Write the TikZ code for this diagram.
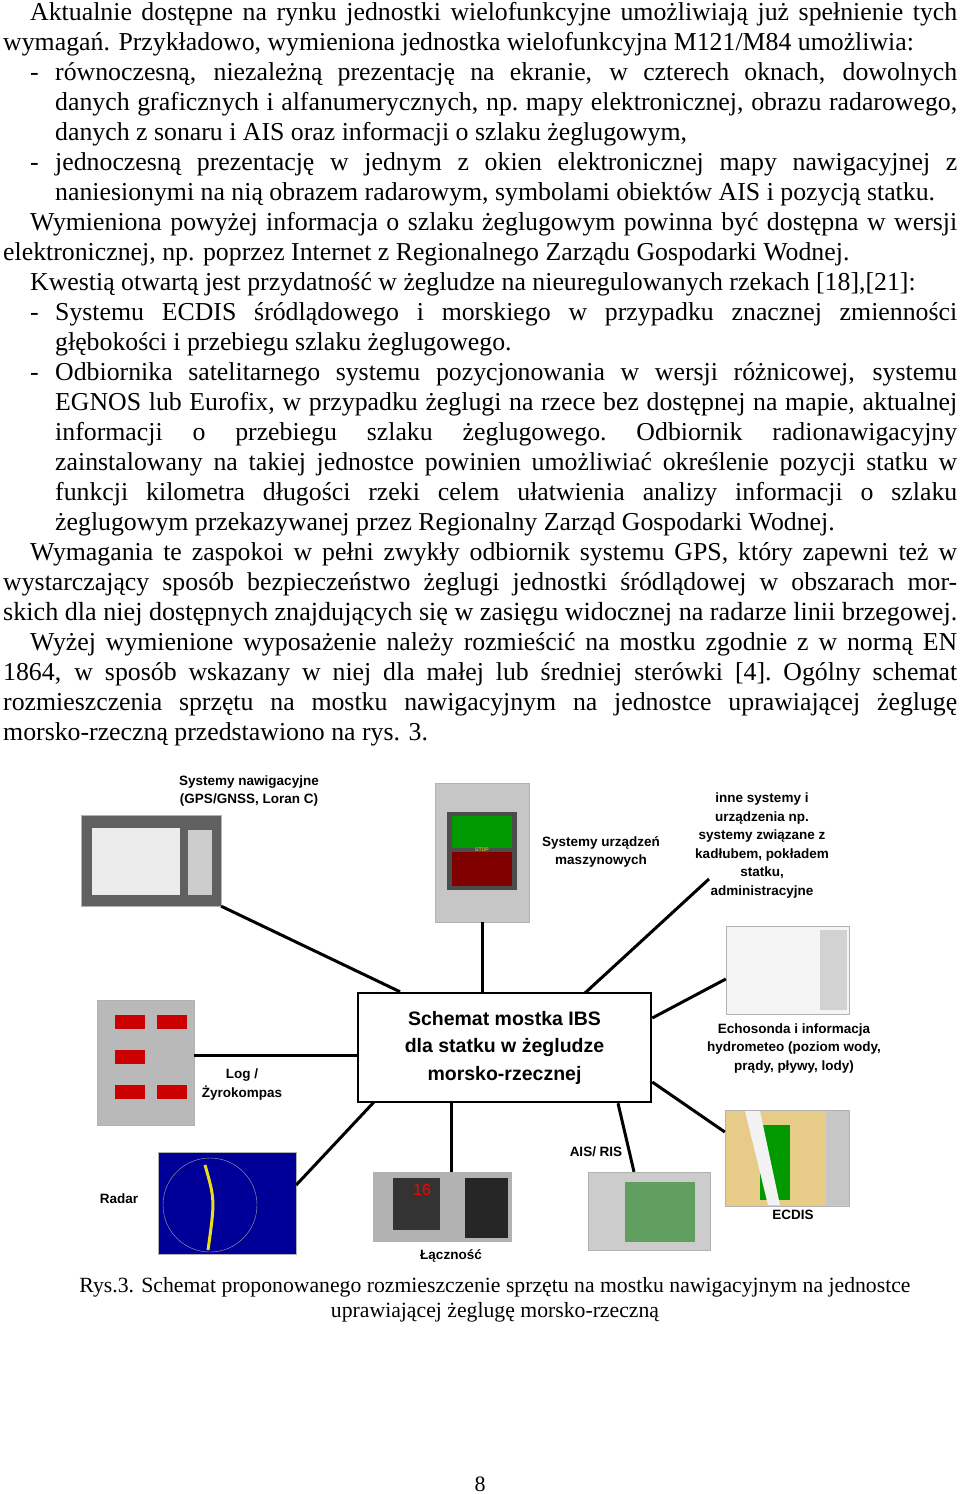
\documentclass[tikz,border=0pt]{standalone}
\usepackage{fontspec}
\setmainfont{Liberation Serif}
\setsansfont{Liberation Sans}
\newcommand{\jl}[2]{\hbox to #1{\spaceskip=0.25em plus 1fil minus 0.12em\xspaceskip=0.25em plus 1fil minus 0.12em #2}}
\begin{document}
\begin{tikzpicture}[x=1pt,y=-1pt,
  body/.style={anchor=base west,inner sep=0pt,font=\fontsize{25.8}{30}\selectfont},
  lab/.style={align=center,inner sep=0pt,font=\sffamily\bfseries\fontsize{13.5}{18.5}\selectfont},
  dev/.style={draw=gray!60,inner sep=0pt},
  link/.style={line width=3pt}]
\useasboundingbox (0,0) rectangle (960,1494);
\fill[white] (0,0) rectangle (960,1494);
% ---- body text ----
\def\W{927pt}\def\V{902pt}
\node[body] (t0) at (30,20) {\jl{\W}{Aktualnie dostępne na rynku jednostki wielofunkcyjne umożliwiają już spełnienie tych}};
\node[body] (t1) at (3,50) {wymagań. Przykładowo, wymieniona jednostka wielofunkcyjna M121/M84 umożliwia:};
\node[body] (d2) at (30,80) {-};
\node[body] (t2) at (55,80) {\jl{\V}{równoczesną, niezależną prezentację na ekranie, w czterech oknach, dowolnych}};
\node[body] (t3) at (55,110) {\jl{\V}{danych graficznych i alfanumerycznych, np. mapy elektronicznej, obrazu radarowego,}};
\node[body] (t4) at (55,140) {danych z sonaru i AIS oraz informacji o szlaku żeglugowym,};
\node[body] (d5) at (30,170) {-};
\node[body] (t5) at (55,170) {\jl{\V}{jednoczesną prezentację w jednym z okien elektronicznej mapy nawigacyjnej z}};
\node[body] (t6) at (55,200) {naniesionymi na nią obrazem radarowym, symbolami obiektów AIS i pozycją statku.};
\node[body] (t7) at (30,230) {\jl{\W}{Wymieniona powyżej informacja o szlaku żeglugowym powinna być dostępna w wersji}};
\node[body] (t8) at (3,260) {elektronicznej, np. poprzez Internet z Regionalnego Zarządu Gospodarki Wodnej.};
\node[body] (t9) at (30,290) {Kwestią otwartą jest przydatność w żegludze na nieuregulowanych rzekach [18],[21]:};
\node[body] (d10) at (30,320) {-};
\node[body] (t10) at (55,320) {\jl{\V}{Systemu ECDIS śródlądowego i morskiego w przypadku znacznej zmienności}};
\node[body] (t11) at (55,350) {głębokości i przebiegu szlaku żeglugowego.};
\node[body] (d12) at (30,380) {-};
\node[body] (t12) at (55,380) {\jl{\V}{Odbiornika satelitarnego systemu pozycjonowania w wersji różnicowej, systemu}};
\node[body] (t13) at (55,410) {\jl{\V}{EGNOS lub Eurofix, w przypadku żeglugi na rzece bez dostępnej na mapie, aktualnej}};
\node[body] (t14) at (55,440) {\jl{\V}{informacji o przebiegu szlaku żeglugowego. Odbiornik radionawigacyjny}};
\node[body] (t15) at (55,470) {\jl{\V}{zainstalowany na takiej jednostce powinien umożliwiać określenie pozycji statku w}};
\node[body] (t16) at (55,500) {\jl{\V}{funkcji kilometra długości rzeki celem ułatwienia analizy informacji o szlaku}};
\node[body] (t17) at (55,530) {żeglugowym przekazywanej przez Regionalny Zarząd Gospodarki Wodnej.};
\node[body] (t18) at (30,560) {\jl{\W}{Wymagania te zaspokoi w pełni zwykły odbiornik systemu GPS, który zapewni też w}};
\node[body] (t19) at (3,590) {\jl{954pt}{wystarczający sposób bezpieczeństwo żeglugi jednostki śródlądowej w obszarach mor-}};
\node[body] (t20) at (3,620) {\resizebox{954pt}{!}{skich dla niej dostępnych znajdujących się w zasięgu widocznej na radarze linii brzegowej.}};
\node[body] (t21) at (30,650) {\jl{\W}{Wyżej wymienione wyposażenie należy rozmieścić na mostku zgodnie z w normą EN}};
\node[body] (t22) at (3,680) {\jl{954pt}{1864, w sposób wskazany w niej dla małej lub średniej sterówki [4]. Ogólny schemat}};
\node[body] (t23) at (3,710) {\jl{954pt}{rozmieszczenia sprzętu na mostku nawigacyjnym na jednostce uprawiającej żeglugę}};
\node[body] (t24) at (3,740) {morsko-rzeczną przedstawiono na rys. 3.};
% ---- figure ----
\node[draw,line width=2.5pt,minimum width=293pt,minimum height=109pt,align=center,
  font=\sffamily\bfseries\fontsize{19.5}{27.5}\selectfont] (ibs) at (504.5,1047.5)
  {Schemat mostka IBS\\dla statku w żegludze\\morsko-rzecznej};
% devices
\node[dev,fill=gray!75!black,minimum width=140pt,minimum height=91pt] (nav) at (151,860.5) {};
\fill[gray!15] (92,828) rectangle (180,895);
\fill[gray!40] (188,830) rectangle (212,895);
\node[dev,fill=gray!45,minimum width=94pt,minimum height=139pt] (eng) at (482,852.5) {};
\fill[black!70] (447,812) rectangle (517,890);
\fill[green!60!black] (452,816) rectangle (512,848);
\fill[red!50!black] (452,852) rectangle (512,886);
\node[font=\sffamily\fontsize{5}{5}\selectfont,text=yellow] (stop) at (482,850) {STOP};
\node[dev,fill=gray!8,minimum width=123pt,minimum height=88pt] (echo) at (787.5,970) {};
\fill[gray!35] (820,930) rectangle (847,1010);
\node[dev,fill=gray!55,minimum width=97pt,minimum height=125pt] (log) at (145.5,1062.5) {};
\foreach \yy in {1015,1050,1085}{\fill[red!80!black] (115,\yy) rectangle (145,\yy+14);}
\fill[red!80!black] (157,1015) rectangle (187,1029);
\fill[red!80!black] (157,1085) rectangle (187,1099);
\node[dev,fill=blue!60!black,minimum width=138pt,minimum height=102pt] (radar) at (227,1203) {};
\draw[gray!70] (210,1205) circle (47);
\draw[yellow!90!black,line width=3pt] (205,1165) .. controls (215,1200) .. (208,1250);
\node[dev,fill=gray!60,minimum width=138pt,minimum height=69pt] (com) at (442,1206.5) {};
\fill[black!80] (393,1178) rectangle (440,1230);
\node[font=\sffamily\fontsize{16}{16}\selectfont,text=red] (ch) at (422,1190) {16};
\fill[gray!30!black] (465,1178) rectangle (508,1238);
\node[dev,fill=gray!40,minimum width=122pt,minimum height=78pt] (ais) at (649,1211) {};
\fill[green!25!gray] (625,1182) rectangle (695,1242);
\node[dev,fill=yellow!30!brown!60,minimum width=124pt,minimum height=96pt] (ecdis) at (787,1158) {};
\fill[green!60!black] (760,1125) rectangle (790,1200);
\fill[gray!10] (745,1111) -- (760,1111) -- (780,1205) -- (768,1205) -- cycle;
\fill[gray!45] (826,1111) rectangle (849,1205);
% labels
\node[lab] (lnav) at (249,791) {Systemy nawigacyjne\\(GPS/GNSS, Loran C)};
\node[lab] (leng) at (601,852) {Systemy urządzeń\\maszynowych};
\node[lab] (loth) at (762,845.5) {inne systemy i\\urządzenia np.\\systemy związane z\\kadłubem, pokładem\\statku,\\administracyjne};
\node[lab] (lecho) at (794,1048) {Echosonda i informacja\\hydrometeo (poziom wody,\\prądy, pływy, lody)};
\node[lab] (llog) at (242,1084.5) {Log /\\Żyrokompas};
\node[lab] (lrad) at (119,1199) {Radar};
\node[lab] (lcom) at (451,1256) {Łączność};
\node[lab] (lais) at (596,1152) {AIS/ RIS};
\node[lab] (lecd) at (793,1215) {ECDIS};
% connectors
\coordinate (oth) at (709,879);
\draw[link] (nav.south east) -- (ibs.north west -| 400,993);
\draw[link] (eng.south) -- (eng.south |- ibs.north);
\draw[link] (oth) -- (585,993);
\draw[link] (echo.west |- 0,979) -- (ibs.east |- 0,1018);
\draw[link] (log.east |- 0,1055) -- (ibs.west |- 0,1055);
\draw[link] (radar.east |- 0,1185) -- (374,1102);
\draw[link] (com.north -| 451,0) -- (ibs.south -| 451,0);
\draw[link] (ais.north -| 634,0) -- (ibs.south -| 618,0);
\draw[link] (ecdis.west |- 0,1132) -- (ibs.east |- 0,1082);
% caption
\node[inner sep=0pt,font=\fontsize{19}{24}\selectfont] (cap1) at (495,1287) {\resizebox{831pt}{!}{Rys.3. Schemat proponowanego rozmieszczenie sprzętu na mostku nawigacyjnym na jednostce}};
\node[inner sep=0pt,font=\fontsize{19}{24}\selectfont] (cap2) at (495,1312) {\resizebox{328pt}{!}{uprawiającej żeglugę morsko-rzeczną}};
\node[inner sep=0pt,font=\fontsize{22}{24}\selectfont] (pg) at (480,1484) {8};
\end{tikzpicture}
\end{document}
